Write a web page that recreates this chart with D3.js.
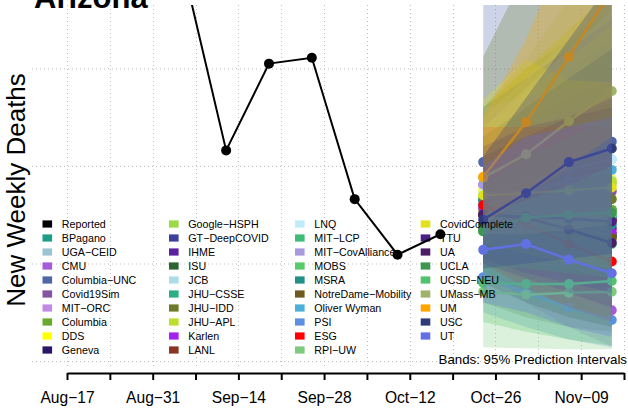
<!DOCTYPE html>
<html><head><meta charset="utf-8">
<script src="https://cdn.jsdelivr.net/npm/d3@7"></script>
<style>html,body{margin:0;padding:0;background:#fff;} svg{display:block;font-family:"Liberation Sans",Arial,Helvetica,sans-serif;}</style>
</head><body><svg id="c" width="628" height="413"></svg>
<script>
// ---- data ----
const reportedDates = ["2020-08-15","2020-08-22","2020-08-29","2020-09-05","2020-09-12","2020-09-19","2020-09-26","2020-10-03","2020-10-10","2020-10-17"];
const reportedValues = [820, 650, 520, 403, 216, 305, 311, 166, 109, 130];

const forecastDates = ["2020-10-24","2020-10-31","2020-11-07","2020-11-14"];

const models = ["BPagano","UGA\u2212CEID","CMU","Columbia\u2212UNC","Covid19Sim","MIT\u2212ORC","Columbia","DDS","Geneva",
  "Google\u2212HSPH","GT\u2212DeepCOVID","IHME","ISU","JCB","JHU\u2212CSSE","JHU\u2212IDD","JHU\u2212APL","Karlen","LANL",
  "LNQ","MIT\u2212LCP","MIT\u2212CovAlliance","MOBS","MSRA","NotreDame\u2212Mobility","Oliver Wyman","PSI","ESG","RPI\u2212UW",
  "CovidComplete","TTU","UA","UCLA","UCSD\u2212NEU","UMass\u2212MB","UM","USC","UT"];
const colors = ["#1b9e85","#9cc3d1","#a65cd8","#5066aa","#8454a1","#c18ae6","#6aa92f","#ffff00","#2a1566",
  "#9ada44","#3b419b","#5b209c","#2e6231","#aedde9","#2bae82","#6b7b2b","#bbe02b","#a221f0","#8a3521",
  "#c1ebfa","#3dbd78","#a999dd","#57cc68","#1f9188","#6e5a21","#4bafd7","#5c90e1","#ff0000","#7ecb7f",
  "#e1e11b","#4a2182","#4b1f67","#3d9750","#52c271","#9fb46b","#ffa500","#2f3a79","#6171e2"];
const medians = [
  [170,165,160,155],[180,185,195,207],[158,120,85,52],[204,212,220,225],[165,170,172,174],[181,165,150,144],
  [168,164,158,155],[175,180,183,186],[135,132,130,128],[168,172,178,182],[150,150,148,146],[150,145,140,136],
  [140,138,134,130],[160,170,178,185],[160,155,150,148],[155,160,162,166],[170,175,180,184],[158,150,140,132],
  [150,148,146,144],[172,184,196,207],[133,128,125,120],[181,160,140,122],[133,140,145,150],[165,158,150,140],
  [140,135,130,126],[160,172,185,196],[86,70,55,42],[160,140,120,102],[71,68,70,71],[170,172,175,178],
  [150,148,146,143],[150,147,135,121],[133,147,150,152],[80,79,79,82],[188,212,246,277],[189,245,312,380],
  [145,172,204,218],[114,120,104,90]];
const lower = [
  [110,80,60,45],[120,100,90,80],[100,60,35,15],[140,120,105,90],[120,110,100,95],[130,100,80,65],
  [100,75,55,40],[110,90,75,65],[90,70,55,45],[110,90,80,70],[100,85,70,60],[110,95,80,70],
  [80,60,45,35],[100,85,75,65],[105,85,70,60],[60,45,35,30],[120,105,95,85],[110,90,70,55],
  [100,80,65,55],[120,110,100,95],[85,65,50,40],[120,90,65,45],[90,80,70,60],[120,100,85,70],
  [80,60,45,35],[110,100,95,90],[50,35,22,14],[100,75,55,40],[14,13,12,12],[120,110,100,95],
  [105,90,80,70],[100,85,70,55],[95,95,90,85],[40,30,22,16],[130,130,135,140],[140,170,200,230],
  [95,100,105,110],[60,50,35,25]];
const upper = [
  [240,270,300,330],[260,300,340,380],[230,210,190,170],[420,460,500,540],[220,240,260,280],[240,250,260,270],
  [260,300,330,360],[260,300,340,380],[190,210,230,250],[240,280,320,360],[260,290,320,350],[200,215,230,245],
  [230,260,290,320],[250,290,330,370],[230,250,270,290],[312,400,460,520],[240,275,310,345],[220,240,255,270],
  [210,230,250,270],[240,280,320,360],[200,220,240,260],[260,270,280,290],[190,215,240,265],[220,235,250,265],
  [230,260,290,320],[230,260,290,320],[150,140,125,110],[240,240,240,240],[130,140,150,160],[268,309,288,286],
  [210,230,250,270],[220,240,250,260],[180,210,230,250],[150,165,180,200],[260,310,370,430],[250,330,430,540],
  [210,270,330,390],[200,230,240,250]];

const yGridValues = [0, 100, 200, 300];
const xTickDates = ["2020-08-17","2020-08-24","2020-08-31","2020-09-07","2020-09-14","2020-09-21","2020-09-28",
  "2020-10-05","2020-10-12","2020-10-19","2020-10-26","2020-11-02","2020-11-09","2020-11-16"];
const xTickLabels = ["Aug\u221217","","Aug\u221231","","Sep\u221214","","Sep\u221228","","Oct\u221212","","Oct\u221226","","Nov\u221209",""];

// ---- layout ----
const parse = d3.utcParse("%Y-%m-%d");
const svg = d3.select("#c");
const x = d3.scaleUtc().domain([parse("2020-08-17"), parse("2020-11-16")]).range([67, 624]);
const y = d3.scaleLinear().domain([0, 300]).range([361, 68.5]);
const plot = {l: 32, r: 628, t: 5, b: 367};

svg.append("defs").append("clipPath").attr("id","clip")
  .append("rect").attr("x",plot.l).attr("y",plot.t).attr("width",plot.r-plot.l).attr("height",plot.b-plot.t);

// grid
const grid = svg.append("g").attr("stroke","#bdbdbd").attr("stroke-width",1).attr("stroke-dasharray","1,3");
grid.selectAll(".hg").data(yGridValues).join("line")
  .attr("x1",plot.l).attr("x2",plot.r).attr("y1",d=>y(d)+0.5).attr("y2",d=>y(d)+0.5);
grid.selectAll(".vg").data(xTickDates).join("line")
  .attr("x1",d=>Math.round(x(parse(d)))+0.5).attr("x2",d=>Math.round(x(parse(d)))+0.5)
  .attr("y1",plot.t).attr("y2",plot.b);

// x axis
const axis = d3.axisBottom(x).tickValues(xTickDates.map(parse))
  .tickFormat((d,i)=>xTickLabels[i]).tickSize(7).tickSizeOuter(0).tickPadding(12);
const ax = svg.append("g").attr("transform","translate(0,373)").call(axis);
ax.select(".domain").attr("stroke","#000").attr("stroke-width",2);
ax.selectAll(".tick line").attr("stroke","#000").attr("stroke-width",2);
ax.selectAll(".tick text").attr("font-size","15.6px").attr("fill","#000")
  .attr("font-family","'Liberation Sans',Arial,sans-serif").attr("dy","0.71em");

// title & y label
svg.append("text").attr("x",34).attr("y",8).attr("font-size","31px").attr("font-weight","bold").text("Arizona");
svg.append("text").attr("transform","translate(25,190) rotate(-90)").attr("text-anchor","middle")
  .attr("font-size","26px").text("New Weekly Deaths");

// forecasts
const g = svg.append("g").attr("clip-path","url(#clip)");
const line = d3.line().x(d=>x(d[0])).y(d=>y(d[1]));
const fd = forecastDates.map(parse);
const area = d3.area().x(d=>x(d[0])).y0(d=>y(d[1])).y1(d=>y(d[2]));
models.forEach((m,i)=>{
  const band = fd.map((d,k)=>[d, lower[i][k], upper[i][k]]);
  g.append("path").attr("d",area(band)).attr("fill",colors[i]).attr("fill-opacity",0.28);
  const pts = fd.map((d,k)=>[d, medians[i][k]]);
  g.append("path").attr("d",line(pts)).attr("fill","none").attr("stroke",colors[i]).attr("stroke-width",2.5);
  g.selectAll(null).data(pts).join("circle").attr("cx",d=>x(d[0])).attr("cy",d=>y(d[1])).attr("r",5).attr("fill",colors[i]);
});

// legend
const legNames = ["Reported"].concat(models);
const legColors = ["#000000"].concat(colors);
const colTextX = [61.8, 188.3, 314.3, 440];
const leg = svg.append("g");
legNames.forEach((n,i)=>{
  const c = Math.floor(i/10), r = i%10;
  const cy = 224 + r*14;
  leg.append("rect").attr("x",colTextX[c]-19.3).attr("y",cy-3.6).attr("width",9.6).attr("height",7.2).attr("fill",legColors[i]);
  leg.append("text").attr("x",colTextX[c]).attr("y",cy+3.8).attr("font-size","10.7px").attr("fill","#000").text(n);
});

// reported
const rg = svg.append("g").attr("clip-path","url(#clip)");
const rep = reportedDates.map((d,i)=>[parse(d), reportedValues[i]]);
rg.append("path").attr("d",line(rep)).attr("fill","none").attr("stroke","#000").attr("stroke-width",2);
rg.selectAll(".rp").data(rep).join("circle").attr("cx",d=>x(d[0])).attr("cy",d=>y(d[1])).attr("r",5).attr("fill","#000");

svg.append("text").attr("x",627).attr("y",364).attr("text-anchor","end").attr("font-size","13.3px").text("Bands: 95% Prediction Intervals");
</script></body></html>
